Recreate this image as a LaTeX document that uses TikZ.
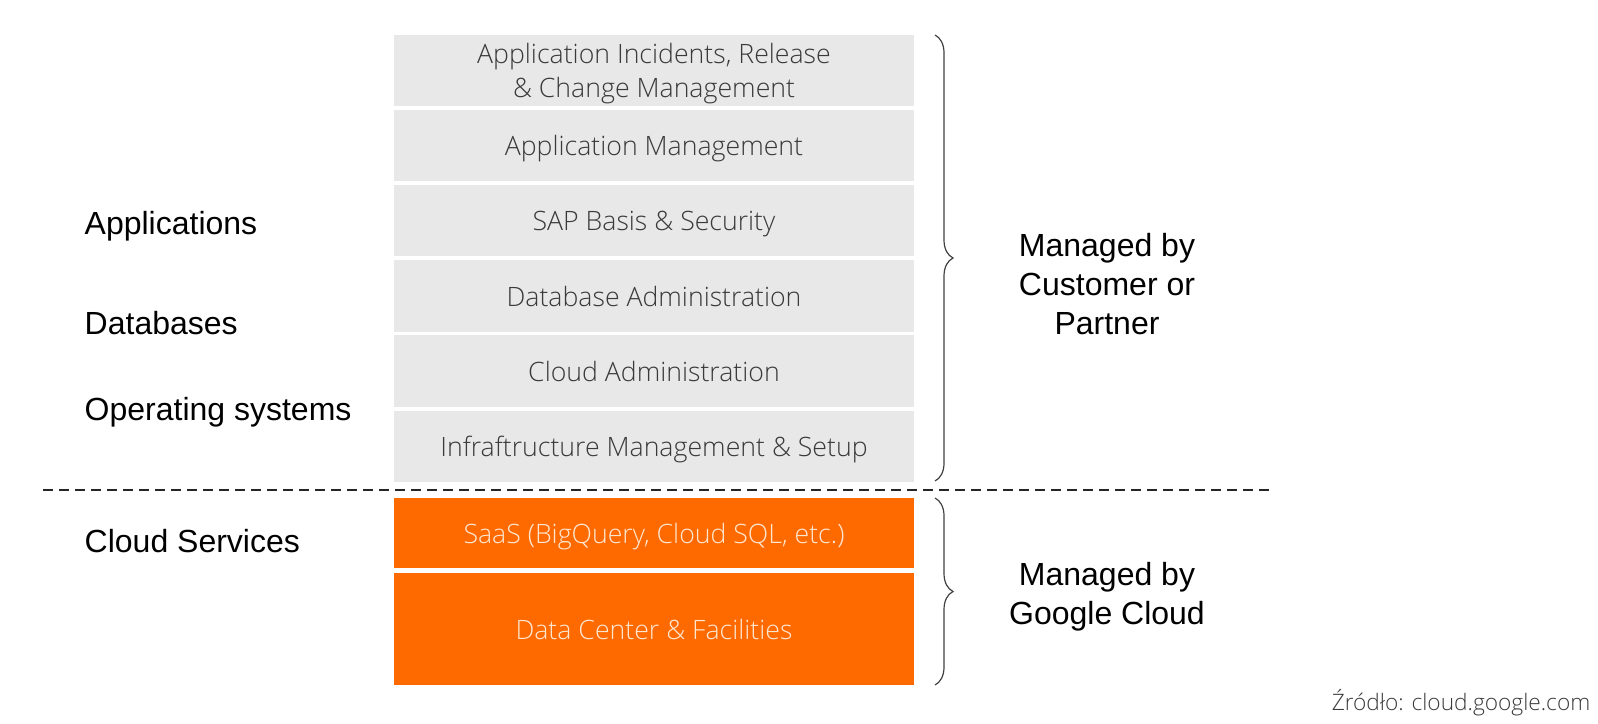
\documentclass[tikz,border=0pt]{standalone}
\usepackage{fontspec}
\setmainfont{Liberation Sans}
\newfontfamily\lightfont{Open Sans Light}
\usetikzlibrary{decorations.pathreplacing}
\definecolor{layergray}{HTML}{E8E8E8}
\definecolor{layerorange}{HTML}{FF6A00}
\definecolor{layertext}{HTML}{3A3A3A}
\definecolor{orangetext}{HTML}{FDE6D0}
\definecolor{bracegray}{HTML}{404040}

\begin{document}
\begin{tikzpicture}[x=0.75pt,y=-0.75pt]
\tikzset{
  graylayer/.style={fill=layergray,minimum width=390pt,minimum height=53.6pt,inner sep=0pt,align=center,
    text depth=0pt,text=layertext,font=\lightfont\fontsize{20}{26}\selectfont},
  orangelayer/.style={graylayer,fill=layerorange,text=orangetext},
  sidelabel/.style={anchor=west,font=\fontsize{24}{29.5}\selectfont},
  managelabel/.style={align=center,font=\fontsize{24}{29.5}\selectfont},
  bracebar/.style={decorate,decoration={brace,amplitude=13.5pt},draw=bracegray,line width=0.9pt},
  splitline/.style={line width=1.1pt,draw=black!85,dash pattern=on 7.5pt off 4.5pt}
}
\useasboundingbox (0,0) rectangle (1598,724);
% customer / partner layers
\node[graylayer] (l_inc) at (654,70.3) {Application Incidents, Release\\\& Change Management};
\node[graylayer] (l_app) at (654,145.5) {Application Management};
\node[graylayer] (l_sap) at (654,220.7) {SAP Basis \& Security};
\node[graylayer] (l_db) at (654,295.9) {Database Administration};
\node[graylayer] (l_cloud) at (654,371.1) {Cloud Administration};
\node[graylayer] (l_infra) at (654,446.3) {Infraftructure Management \& Setup};
% google cloud layers
\node[orangelayer,minimum height=52.5pt] (l_saas) at (654,533) {SaaS (BigQuery, Cloud SQL, etc.)};
\node[orangelayer,minimum height=84pt] (l_dc) at (654,629) {Data Center \& Facilities};
% left labels
\node[sidelabel] (s_apps) at (80,226) {Applications};
\node[sidelabel] (s_dbs) at (80,323) {Databases};
\node[sidelabel] (s_os) at (80,412) {Operating systems};
\node[sidelabel] (s_cs) at (80,541) {Cloud Services};
% split line
\coordinate (split_l) at (43,490);
\coordinate (split_r) at (1272,490);
\draw[splitline] (split_l) -- (split_r);
% braces
\coordinate (cust_top) at (935,35);
\coordinate (cust_bot) at (935,481);
\coordinate (goog_top) at (935,498);
\coordinate (goog_bot) at (935,685);
\draw[bracebar] (cust_top) -- (cust_bot);
\draw[bracebar] (goog_top) -- (goog_bot);
\node[managelabel] (m_cust) at (1107,284) {Managed by\\Customer or\\Partner};
\node[managelabel] (m_goog) at (1107,597) {Managed by\\Google Cloud};
% source
\node[anchor=east,text=layertext,font=\lightfont\fontsize{17}{20}\selectfont] (src) at (1595,703) {Źródło: cloud.google.com};
\end{tikzpicture}
\end{document}
